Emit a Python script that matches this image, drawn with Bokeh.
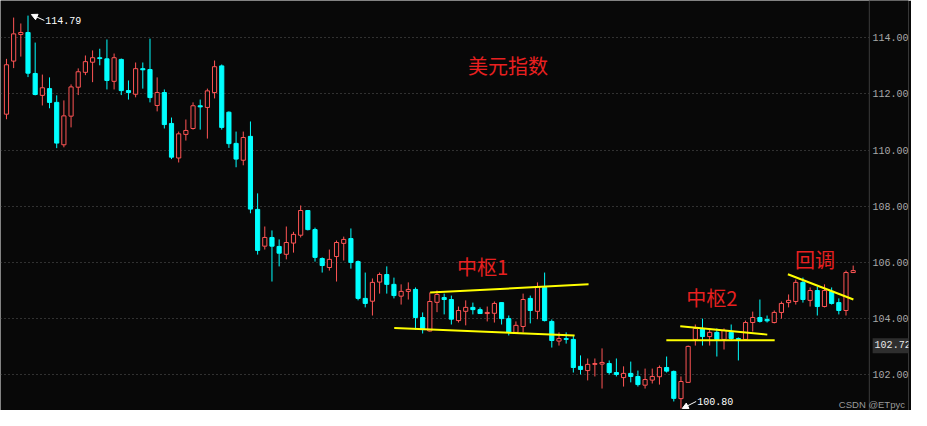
from bokeh.plotting import figure
from bokeh.models import (ColumnDataSource, Range1d, FixedTicker, NumeralTickFormatter,
                          Label, Arrow, NormalHead, Span, BoxAnnotation)
from bokeh.core.properties import value
from bokeh.embed import file_html
from bokeh.resources import INLINE

# ---------------- data (US Dollar Index daily candles) ----------------
opens = [111.28, 113.17, 114.12, 114.19, 112.73, 111.95, 112.19, 111.70, 110.19, 111.21,
         112.24, 112.77, 113.13, 113.29, 113.25, 112.45, 113.23, 112.12, 111.99, 112.90,
         112.87, 111.59, 112.05, 110.95, 109.72, 110.56, 110.77, 111.58, 111.52, 112.05,
         113.00, 111.35, 110.24, 109.64, 110.49, 107.89, 106.58, 106.89, 106.57, 106.29,
         106.69, 106.97, 107.85, 107.17, 106.14, 105.82, 106.21, 106.68, 106.85, 106.03,
         104.72, 104.62, 105.30, 105.57, 105.22, 104.80, 104.97, 105.04, 104.04, 103.56,
         104.58, 104.75, 104.68, 103.93, 104.26, 104.40, 104.32, 104.18, 104.19, 104.57,
         104.00, 103.51, 103.72, 104.72, 104.26, 105.11, 103.90, 103.20, 103.29, 103.26,
         102.30, 102.15, 102.37, 102.38, 102.40, 102.08, 101.90, 102.05, 101.94, 101.63,
         101.81, 101.93, 102.26, 102.12, 101.15, 101.73, 103.26, 103.65, 103.36, 103.51,
         103.26, 103.51, 103.29, 103.26, 103.86, 104.04, 103.97, 103.86, 104.22, 104.57,
         104.61, 105.29, 104.65, 105.00, 104.43, 104.97, 104.57, 104.29, 105.64]
highs = [113.25, 114.72, 114.51, 114.79, 113.83, 112.69, 112.59, 111.95, 111.77, 112.34,
         112.91, 113.37, 113.55, 113.61, 113.94, 113.44, 113.26, 112.48, 113.12, 113.12,
         113.97, 112.59, 112.16, 111.16, 110.66, 111.09, 111.70, 111.80, 112.19, 113.19,
         113.05, 111.38, 110.66, 110.66, 111.02, 108.46, 107.28, 107.14, 106.82, 107.28,
         107.09, 108.03, 107.85, 107.24, 106.18, 106.46, 106.78, 106.92, 107.21, 106.07,
         105.64, 105.43, 105.64, 105.86, 105.46, 105.22, 105.29, 105.11, 104.22, 104.93,
         105.00, 104.89, 104.82, 104.43, 104.65, 104.57, 104.40, 104.43, 104.61, 104.57,
         104.11, 103.90, 104.89, 104.82, 105.29, 105.64, 103.97, 103.51, 103.51, 103.40,
         102.69, 102.58, 102.58, 102.94, 102.51, 102.58, 102.30, 102.47, 102.15, 102.22,
         102.22, 102.33, 102.65, 102.15, 101.94, 103.04, 103.79, 104.00, 103.65, 103.65,
         103.65, 103.79, 103.33, 103.93, 104.25, 104.68, 104.11, 104.29, 104.61, 104.86,
         105.39, 105.46, 105.11, 105.14, 105.22, 105.11, 104.72, 105.71, 105.89]
lows = [111.10, 112.92, 113.33, 112.60, 111.95, 111.59, 111.49, 110.07, 110.10, 110.81,
        111.96, 112.67, 112.42, 113.02, 112.16, 112.16, 111.96, 111.80, 111.88, 112.19,
        111.70, 111.38, 110.77, 109.68, 109.56, 110.34, 110.73, 110.73, 110.41, 111.84,
        110.73, 110.08, 109.39, 109.46, 107.75, 106.28, 106.46, 105.32, 105.86, 106.11,
        106.35, 106.89, 107.14, 106.03, 105.64, 105.71, 105.32, 106.07, 105.78, 104.65,
        104.40, 104.11, 104.89, 104.89, 104.72, 104.50, 104.68, 103.61, 103.47, 103.54,
        104.23, 104.15, 103.79, 103.86, 103.76, 104.15, 104.18, 103.90, 103.86, 103.79,
        103.40, 103.51, 103.51, 103.83, 103.98, 103.90, 102.97, 103.04, 103.11, 102.08,
        102.01, 101.80, 101.94, 101.51, 102.01, 101.94, 101.58, 101.73, 101.58, 101.51,
        101.69, 101.65, 102.08, 101.05, 100.80, 101.73, 103.04, 103.04, 103.04, 102.65,
        102.90, 103.22, 102.51, 103.26, 103.54, 103.86, 103.86, 103.83, 104.00, 104.40,
        104.50, 104.57, 104.43, 104.11, 104.40, 104.50, 104.15, 104.11, 105.64]
closes = [113.04, 114.14, 114.19, 112.74, 111.98, 112.22, 111.70, 110.25, 111.22, 112.25,
          112.79, 113.15, 113.29, 113.26, 112.48, 113.29, 112.12, 112.05, 112.90, 112.86,
          111.87, 112.05, 110.91, 109.75, 110.58, 110.70, 111.58, 111.54, 112.11, 112.97,
          110.81, 110.23, 109.68, 110.45, 107.90, 106.43, 106.89, 106.58, 106.33, 106.71,
          107.00, 107.85, 107.17, 106.18, 105.89, 106.11, 106.71, 106.82, 106.00, 104.72,
          104.54, 105.29, 105.57, 105.22, 104.82, 104.97, 105.04, 104.04, 103.61, 104.61,
          104.86, 104.68, 103.98, 104.29, 104.40, 104.32, 104.18, 104.22, 104.54, 104.00,
          103.51, 103.76, 104.68, 104.29, 105.14, 103.93, 103.22, 103.29, 103.26, 102.26,
          102.19, 102.37, 102.40, 102.44, 102.08, 102.01, 102.05, 101.94, 101.65, 101.83,
          101.94, 102.26, 102.13, 101.16, 101.76, 103.01, 103.65, 103.36, 103.51, 103.26,
          103.58, 103.29, 103.26, 103.86, 104.04, 103.90, 103.92, 104.22, 104.54, 104.65,
          105.29, 104.68, 105.00, 104.43, 105.00, 104.54, 104.29, 105.64, 105.71]

tick_values = [102, 104, 106, 108, 110, 112, 114]

# hand-drawn annotation lines (x in candle index, y in price)
zs1_upper_x = [59.04, 81.12]
zs1_upper_y = [104.93, 105.22]
zs1_lower_x = [54.04, 79.18]
zs1_lower_y = [103.67, 103.40]
zs2_upper_x = [93.90, 106.03]
zs2_upper_y = [103.73, 103.43]
zs2_lower_x = [91.96, 107.06]
zs2_lower_y = [103.23, 103.23]
pull_x = [108.90, 118.03]
pull_y = [105.58, 104.68]

title_text = "美元指数"
labels_text = ["中枢1", "中枢2", "回调"]
labels_x = [62.79, 94.74, 109.88]
labels_y = [105.84, 104.75, 106.09]

high_mark = 114.79
low_mark = 100.80
last_price = "102.72"
watermark = "CSDN @ETpyc"

# ---------------- styling ----------------
BG = "#080808"
UP = "#ff5555"
DOWN = "#00ffff"
YEL = "#ffff00"
TXT_RED = "#e82020"
AXIS_X = 120.25          # candle-index position of the price-axis line

n = len(opens)
xs = list(range(n))
up_idx = [i for i in xs if closes[i] >= opens[i]]
dn_idx = [i for i in xs if closes[i] < opens[i]]

def src(idx):
    return ColumnDataSource(dict(
        x=[xs[i] for i in idx],
        top=[max(opens[i], closes[i]) for i in idx],
        bottom=[min(opens[i], closes[i]) for i in idx],
        high=[highs[i] for i in idx],
        low=[lows[i] for i in idx],
    ))

up_src = src(up_idx)
dn_src = src(dn_idx)

p = figure(width=911, height=410,
           x_range=Range1d(-0.833, 125.71), y_range=Range1d(100.728, 115.328),
           x_axis_type=None, y_axis_location="right",
           toolbar_location=None, output_backend="svg",
           background_fill_color=BG, border_fill_color=BG,
           min_border_left=0, min_border_right=0,
           min_border_top=0, min_border_bottom=0,
           outline_line_color=None)

# price axis: labels drawn into the right strip of the plot
ax = p.yaxis[0]
ax.ticker = FixedTicker(ticks=tick_values)
ax.formatter = NumeralTickFormatter(format="0.00")
ax.axis_line_color = None
ax.major_tick_line_color = None
ax.minor_tick_line_color = None
ax.major_tick_in = 0
ax.major_tick_out = 0
ax.major_label_text_color = "#a8a8a8"
ax.major_label_text_font = "Liberation Mono"
ax.major_label_text_font_size = "10px"
ax.major_label_standoff = -36

p.ygrid.ticker = FixedTicker(ticks=tick_values)
p.ygrid.grid_line_color = "#5a5a5a"
p.ygrid.grid_line_dash = "1 3"
p.ygrid.grid_line_width = 1

# blank strip behind the price labels (hides the grid there)
p.add_layout(BoxAnnotation(left=AXIS_X, fill_color=BG, fill_alpha=1.0,
                           line_color=None, level="underlay"))
p.add_layout(Span(location=AXIS_X, dimension="height", line_color="#3c3c3c", line_width=1))

# wicks
p.segment(x0="x", y0="high", x1="x", y1="low", source=up_src, line_color=UP, line_width=1)
p.segment(x0="x", y0="high", x1="x", y1="low", source=dn_src, line_color=DOWN, line_width=1)
# bodies
p.vbar(x="x", width=0.58, top="top", bottom="bottom", source=up_src,
       fill_color=BG, line_color=UP, line_width=1)
p.vbar(x="x", width=0.58, top="top", bottom="bottom", source=dn_src,
       fill_color=DOWN, line_color=DOWN, line_width=1)

# yellow annotation lines
for lx, ly in [(zs1_upper_x, zs1_upper_y), (zs1_lower_x, zs1_lower_y),
               (zs2_upper_x, zs2_upper_y), (zs2_lower_x, zs2_lower_y),
               (pull_x, pull_y)]:
    p.line(lx, ly, line_color=YEL, line_width=2)

# texts
p.text(x=[64.31], y=[113.01], text=[title_text], text_color=TXT_RED,
       text_font=value("Noto Sans CJK SC"), text_font_size="20px",
       text_baseline="middle", text_align="left")
p.text(x=labels_x, y=labels_y, text=labels_text, text_color=TXT_RED,
       text_font=value("Noto Sans CJK SC"), text_font_size="20px",
       text_baseline="middle", text_align="left")

# high / low markers
p.add_layout(Arrow(end=NormalHead(size=6, fill_color="white", line_color="white"),
                   x_start=5.28, y_start=114.616, x_end=3.47, y_end=114.83,
                   line_color="white", line_width=1))
p.text(x=[5.42], y=[114.616], text=[f"{high_mark:.2f}"], text_color="white",
       text_font=value("Liberation Mono"), text_font_size="10px",
       text_baseline="middle", text_align="left")
p.add_layout(Arrow(end=NormalHead(size=6, fill_color="white", line_color="white"),
                   x_start=96.12, y_start=101.05, x_end=94.18, y_end=100.80,
                   line_color="white", line_width=1))
p.text(x=[96.26], y=[101.05], text=[f"{low_mark:.2f}"], text_color="white",
       text_font=value("Liberation Mono"), text_font_size="10px",
       text_baseline="middle", text_align="left")

# last price box on the axis strip
p.add_layout(Label(x=120.71, y=103.03, text=last_price + "  ",
                   text_color="#e8e8e8", text_font="Liberation Mono",
                   text_font_size="10px", text_baseline="middle",
                   background_fill_color="#2e2e2e", padding=2))

# watermark
p.add_layout(Label(x=116.0, y=100.94, text=watermark,
                   text_color="#9a9a9a", text_font="Liberation Sans",
                   text_font_size="9.5px", text_baseline="middle"))

open("out.html", "w").write(file_html(p, INLINE))
